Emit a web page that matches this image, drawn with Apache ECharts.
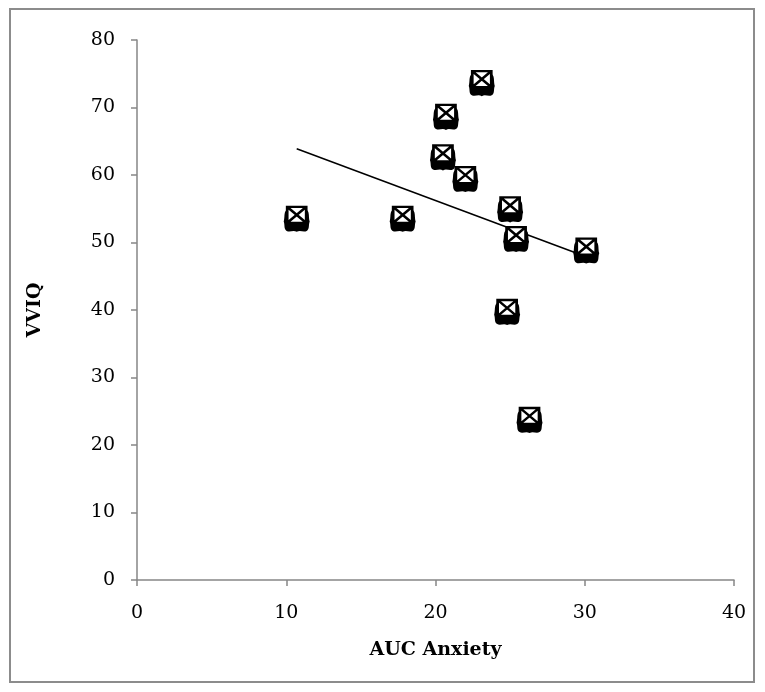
<!DOCTYPE html>
<html>
<head>
<meta charset="utf-8">
<script src="https://cdn.jsdelivr.net/npm/echarts@6/dist/echarts.min.js"></script>
<style>
  html, body { margin: 0; padding: 0; background: #fff; }
  #chart { width: 765px; height: 692px; }
</style>
</head>
<body>
<div id="chart"></div>
<script>
// AUC anxiety vs VVIQ
var aucAnxiety = [10.7, 17.8, 20.7, 20.5, 23.1, 22.0, 25.0, 25.4, 24.8, 26.3, 30.1];
var vviq = [53.8, 53.8, 68.9, 62.9, 73.9, 59.7, 55.2, 50.8, 40.0, 24.0, 49.1];
var trendX = [10.7, 30.1];
var trendY = [63.9, 47.9];
var xTicks = [0, 10, 20, 30, 40];
var yTicks = [0, 10, 20, 30, 40, 50, 60, 70, 80];

var pts = aucAnxiety.map(function (x, i) { return [x, vviq[i]]; });
var trend = trendX.map(function (x, i) { return [x, trendY[i]]; });

var font = "'DejaVu Serif', 'Liberation Serif', serif";
var axisGray = '#868686';

var myChart = echarts.init(document.getElementById('chart'));

var option = {
    backgroundColor: '#fff',
    animation: false,
    graphic: [{
        type: 'rect',
        shape: { x: 10, y: 9, width: 744, height: 673 },
        style: { fill: 'none', stroke: '#8c8c8c', lineWidth: 2 }
    }],
    grid: { left: 137, right: 31, top: 40, bottom: 112 },
    xAxis: {
        type: 'value',
        min: xTicks[0],
        max: xTicks[xTicks.length - 1],
        interval: 10,
        name: 'AUC Anxiety',
        nameLocation: 'middle',
        nameGap: 61,
        nameTextStyle: { fontFamily: font, fontWeight: 'bold', fontSize: 19, color: '#000' },
        axisLine: { lineStyle: { color: axisGray, width: 1.5 } },
        axisTick: { length: 6, lineStyle: { color: axisGray, width: 1.5 } },
        axisLabel: { fontFamily: font, fontSize: 19, color: '#000', margin: 24 },
        splitLine: { show: false }
    },
    yAxis: {
        type: 'value',
        min: yTicks[0],
        max: yTicks[yTicks.length - 1],
        interval: 10,
        name: 'VVIQ',
        nameLocation: 'middle',
        nameGap: 92,
        nameRotate: 90,
        nameTextStyle: { fontFamily: font, fontWeight: 'bold', fontSize: 19, color: '#000' },
        axisLine: { show: true, lineStyle: { color: axisGray, width: 1.5 } },
        axisTick: { show: true, length: 6, lineStyle: { color: axisGray, width: 1.5 } },
        axisLabel: { fontFamily: font, fontSize: 19, color: '#000', margin: 22 },
        splitLine: { show: false }
    },
    series: [
        {
            // trendline
            type: 'line',
            data: trend,
            symbol: 'none',
            lineStyle: { color: '#000', width: 1.5 },
            z: 2
        },
        {
            // black blob under each marker
            type: 'scatter',
            data: pts,
            symbol: 'path://M2,0 C5,-1 7,1 10,0 C13,1 15,-1 18,0 C20,2 19,6 20,10 C19,13 20,16 18,18 C15,20 13,17 10,19 C7,17 5,20 2,18 C0,16 1,13 0,10 C1,6 0,2 2,0 Z',
            symbolSize: [26, 22],
            symbolOffset: [0, 4],
            itemStyle: { color: '#000', opacity: 1 },
            z: 3
        },
        {
            // boxed X on top
            type: 'scatter',
            data: pts,
            symbol: 'path://M0,0 L10,0 L10,10 L0,10 Z M0,0 L10,10 M10,0 L0,10',
            symbolSize: [19, 16],
            symbolOffset: [0, -2],
            itemStyle: { color: '#fff', borderColor: '#000', borderWidth: 2.5, opacity: 1 },
            z: 4
        }
    ]
};

myChart.setOption(option);
</script>
</body>
</html>
